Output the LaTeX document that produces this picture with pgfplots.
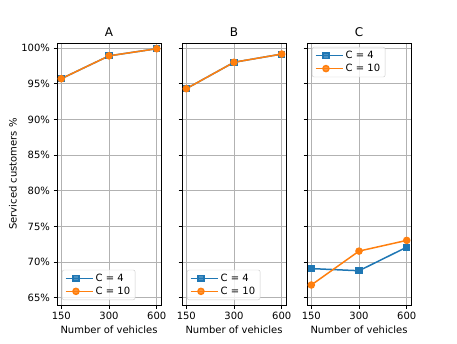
\documentclass[border=0pt]{standalone}
\usepackage{fontspec}
\setmainfont{DejaVu Sans}
\usepackage{pgfplots}
\pgfplotsset{compat=1.18}
\definecolor{mblue}{HTML}{1F77B4}
\definecolor{morange}{HTML}{FF7F0E}

\pgfplotsset{
  panel/.style={
    scale only axis, width=104pt, height=262pt,
    anchor=south west,
    xmin=-0.09, xmax=2.09, ymin=64.0, ymax=100.7,
    xtick={0,1,2}, xticklabels={150,300,600},
    ytick={65,70,...,100},
    grid=major, major grid style={color=black!30, line width=0.8pt},
    axis line style={line width=0.8pt},
    tick align=outside, tick style={black, line width=0.8pt},
    major tick length=3.5pt,
    xtick pos=bottom, ytick pos=left,
    tick label style={font=\fontsize{10}{12}\selectfont},
    label style={font=\fontsize{10}{12}\selectfont},
    title style={font=\fontsize{12}{14}\selectfont,
      at={(axis description cs:0.5,1)}, anchor=center, yshift=4.5pt},
    xlabel={Number of vehicles},
    xlabel style={at={(axis description cs:0.5,0)}, anchor=center, yshift=-25pt},
    legend cell align=left,
    legend image code/.code={
      \draw[line width=1.5pt, mark=none] (0pt,0pt) -- (20pt,0pt);
      \draw[line width=1.5pt] plot[only marks] coordinates {(10pt,0pt)};
      \path (0pt,0pt) -- (27pt,0pt);},
    legend style={font=\fontsize{10}{12}\selectfont, draw=black!20,
      rounded corners=2pt, fill=white, fill opacity=0.8, text opacity=1,
      inner xsep=3pt, inner ysep=2pt},
    /pgf/number format/assume math mode=true,
  },
  s4/.style={mblue, line width=1.5pt, mark=square*, mark size=2.8pt},
  s10/.style={morange, line width=1.5pt, mark=*, mark size=3pt},
}

\begin{document}
\begin{tikzpicture}
\path[use as bounding box] (0,0) rectangle (457pt,343pt);

% A
\begin{axis}[panel, at={(57pt,38pt)}, title={A},
  yticklabels={65\%,70\%,75\%,80\%,85\%,90\%,95\%,100\%},
  ylabel={Serviced customers \%},
  ylabel style={at={(axis description cs:-0.423,0.5)}, anchor=center},
  legend style={at={(axis description cs:0,0)}, anchor=south west,
    xshift=5pt, yshift=5pt}]
\addplot[s4] coordinates {(0,95.7) (1,98.9) (2,99.9)};
\addplot[s10] coordinates {(0,95.7) (1,98.9) (2,99.9)};
\legend{C = 4, C = 10}
\end{axis}

% B
\begin{axis}[panel, at={(182pt,38pt)}, title={B}, yticklabels={},
  legend style={at={(axis description cs:0,0)}, anchor=south west,
    xshift=5pt, yshift=5pt}]
\addplot[s4] coordinates {(0,94.3) (1,98.0) (2,99.15)};
\addplot[s10] coordinates {(0,94.3) (1,98.0) (2,99.15)};
\legend{C = 4, C = 10}
\end{axis}

% C
\begin{axis}[panel, at={(307pt,38pt)}, title={C}, yticklabels={},
  legend style={at={(axis description cs:0,1)}, anchor=north west,
    xshift=5pt, yshift=-4pt}]
\addplot[s4] coordinates {(0,69.1) (1,68.8) (2,72.1)};
\addplot[s10] coordinates {(0,66.8) (1,71.55) (2,73.05)};
\legend{C = 4, C = 10}
\end{axis}
\end{tikzpicture}
\end{document}
